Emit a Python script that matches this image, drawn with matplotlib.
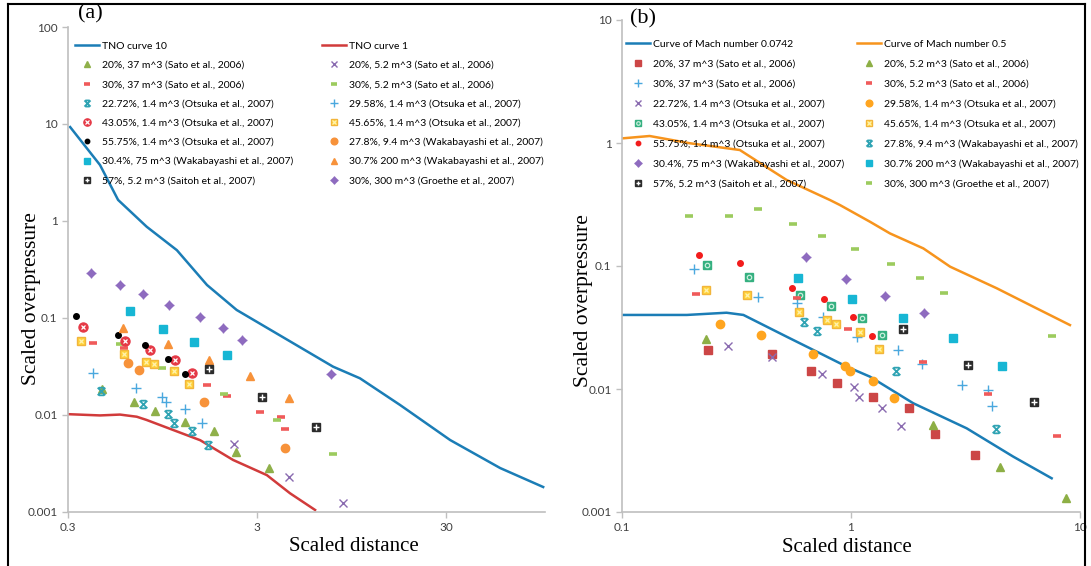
import matplotlib.pyplot as plt
from matplotlib.path import Path
from matplotlib.lines import Line2D

# ---------------- panel (a): TNO multi-energy curves ----------------
tno10_x = [0.308, 0.443, 0.552, 0.782, 1.13, 1.63, 2.34, 4.67, 7.57, 10.5, 17.1, 31.5, 57.9, 97.8]
tno10_y = [9.3, 3.78, 1.65, 0.873, 0.50, 0.219, 0.121, 0.0548, 0.0315, 0.0239, 0.0127, 0.00552, 0.00284, 0.00181]
tno1_x = [0.30, 0.443, 0.565, 0.693, 0.78, 1.50, 2.24, 3.38, 4.48, 6.08]
tno1_y = [0.0102, 0.0099, 0.0101, 0.0096, 0.0089, 0.0055, 0.00344, 0.0024, 0.00156, 0.00105]

a_sato20_37_x = [0.454, 0.668, 0.865, 1.24, 1.78, 2.32, 3.47]
a_sato20_37_y = [0.0184, 0.0136, 0.0111, 0.00848, 0.0068, 0.00412, 0.00282]
a_sato20_52_x = [2.26, 4.42, 8.59]
a_sato20_52_y = [0.00499, 0.0023, 0.00124]
a_sato30_37_x = [0.407, 0.594, 1.63, 2.07, 3.10, 4.02, 4.19]
a_sato30_37_y = [0.0556, 0.0491, 0.0204, 0.0157, 0.0107, 0.0096, 0.00713]
a_sato30_52_x = [0.565, 0.937, 2.01, 3.81, 7.57]
a_sato30_52_y = [0.0535, 0.0305, 0.0163, 0.00888, 0.00399]
a_ots2272_x = [0.450, 0.748, 1.02, 1.09, 1.36, 1.66]
a_ots2272_y = [0.0178, 0.0130, 0.0102, 0.00833, 0.00685, 0.00487]
a_ots2958_x = [0.407, 0.684, 0.940, 0.991, 1.25, 1.53]
a_ots2958_y = [0.0269, 0.0188, 0.0152, 0.0137, 0.0115, 0.0082]
a_ots4305_x = [0.361, 0.603, 0.818, 1.11, 1.35]
a_ots4305_y = [0.0813, 0.0575, 0.0468, 0.0369, 0.0269]
a_ots4565_x = [0.352, 0.591, 0.778, 0.859, 1.09, 1.31]
a_ots4565_y = [0.0575, 0.0423, 0.0354, 0.0333, 0.0283, 0.0209]
a_ots5575_x = [0.330, 0.553, 0.764, 1.01, 1.24]
a_ots5575_y = [0.104, 0.0664, 0.0527, 0.038, 0.0265]
a_wak94_x = [0.624, 0.715, 1.57, 4.24]
a_wak94_y = [0.0341, 0.0291, 0.0136, 0.00457]
a_wak75_x = [0.638, 0.951, 1.40, 2.08]
a_wak75_y = [0.119, 0.0771, 0.057, 0.0412]
a_wak200_x = [0.586, 1.01, 1.68, 2.75, 4.45]
a_wak200_y = [0.0794, 0.0535, 0.0373, 0.0255, 0.0149]
a_sai52_x = [1.68, 3.18, 6.18]
a_sai52_y = [0.030, 0.0153, 0.00757]
a_gro300_x = [0.397, 0.565, 0.748, 1.03, 1.49, 1.99, 2.51, 7.42]
a_gro300_y = [0.293, 0.219, 0.175, 0.136, 0.1016, 0.0788, 0.0593, 0.0267]

# ---------------- panel (b): Mach number curves ----------------
mach0742_x = [0.10, 0.192, 0.286, 0.339, 0.524, 0.733, 0.958, 1.21, 1.87, 3.20, 5.11, 7.52]
mach0742_y = [0.040, 0.040, 0.0417, 0.040, 0.0266, 0.0195, 0.0152, 0.0126, 0.00766, 0.00479, 0.00282, 0.00188]
mach05_x = [0.10, 0.132, 0.198, 0.327, 0.401, 0.524, 0.809, 0.895, 1.21, 1.48, 2.07, 2.71, 4.33, 6.25, 9.04]
mach05_y = [1.09, 1.14, 0.995, 0.877, 0.687, 0.50, 0.344, 0.313, 0.229, 0.184, 0.139, 0.0987, 0.0659, 0.0467, 0.0331]

b_sato20_37_x = [0.237, 0.454, 0.667, 0.866, 1.25, 1.80, 2.33, 3.49]
b_sato20_37_y = [0.0206, 0.0191, 0.0140, 0.0112, 0.00865, 0.00697, 0.0043, 0.0029]
b_sato30_37_x = [0.206, 0.391, 0.579, 0.752, 1.065, 1.60, 2.04, 3.05, 3.97, 4.13]
b_sato30_37_y = [0.0951, 0.0563, 0.0497, 0.0383, 0.0266, 0.0206, 0.0161, 0.0108, 0.0098, 0.00728]
b_ots2272_x = [0.291, 0.451, 0.749, 1.031, 1.084, 1.36, 1.66]
b_ots2272_y = [0.0225, 0.0183, 0.0132, 0.0104, 0.00857, 0.00705, 0.0050]
b_ots4305_x = [0.236, 0.360, 0.601, 0.818, 1.12, 1.36]
b_ots4305_y = [0.101, 0.0819, 0.0581, 0.0475, 0.0376, 0.0275]
b_ots5575_x = [0.217, 0.328, 0.553, 0.762, 1.017, 1.24]
b_ots5575_y = [0.122, 0.105, 0.0667, 0.0536, 0.0387, 0.027]
b_wak75_x = [0.638, 0.948, 1.41, 2.09]
b_wak75_y = [0.119, 0.0779, 0.0574, 0.0412]
b_sai52_x = [1.68, 3.23, 6.30]
b_sai52_y = [0.0305, 0.0157, 0.00779]
b_sato20_52_x = [0.233, 2.29, 4.48, 8.69]
b_sato20_52_y = [0.0256, 0.00513, 0.00233, 0.0013]
b_sato30_52_x = [0.210, 0.579, 0.967, 2.07, 3.98, 7.91]
b_sato30_52_y = [0.0589, 0.0546, 0.0305, 0.0165, 0.0091, 0.00415]
b_ots2958_x = [0.267, 0.405, 0.681, 0.937, 0.987, 1.25, 1.54]
b_ots2958_y = [0.0338, 0.0275, 0.0193, 0.0155, 0.0141, 0.0117, 0.0084]
b_ots4565_x = [0.233, 0.350, 0.591, 0.783, 0.857, 1.09, 1.32]
b_ots4565_y = [0.0642, 0.0581, 0.0425, 0.0362, 0.0340, 0.0291, 0.021]
b_wak94_x = [0.621, 0.713, 1.58, 4.30]
b_wak94_y = [0.0353, 0.0298, 0.0139, 0.0047]
b_wak200_x = [0.585, 1.013, 1.69, 2.78, 4.55]
b_wak200_y = [0.0803, 0.0542, 0.0376, 0.0261, 0.0154]
b_gro300_x = [0.196, 0.293, 0.394, 0.558, 0.745, 1.041, 1.50, 2.00, 2.54, 7.52]
b_gro300_y = [0.255, 0.255, 0.291, 0.221, 0.176, 0.137, 0.103, 0.0798, 0.060, 0.027]

lbl_sato20_37 = "20%, 37 m^3 (Sato et al., 2006)"
lbl_sato20_52 = "20%, 5.2 m^3 (Sato et al., 2006)"
lbl_sato30_37 = "30%, 37 m^3 (Sato et al., 2006)"
lbl_sato30_52 = "30%, 5.2 m^3 (Sato et al., 2006)"
lbl_ots2272 = "22.72%, 1.4 m^3 (Otsuka et al., 2007)"
lbl_ots2958 = "29.58%, 1.4 m^3 (Otsuka et al., 2007)"
lbl_ots4305 = "43.05%, 1.4 m^3 (Otsuka et al., 2007)"
lbl_ots4565 = "45.65%, 1.4 m^3 (Otsuka et al., 2007)"
lbl_ots5575 = "55.75%, 1.4 m^3 (Otsuka et al., 2007)"
lbl_wak94 = "27.8%, 9.4 m^3 (Wakabayashi et al., 2007)"
lbl_wak75 = "30.4%, 75 m^3 (Wakabayashi et al., 2007)"
lbl_wak200 = "30.7% 200 m^3 (Wakabayashi et al., 2007)"
lbl_sai52 = "57%, 5.2 m^3 (Saitoh et al., 2007)"
lbl_gro300 = "30%, 300 m^3 (Groethe et al., 2007)"

# ---------------- marker styles ----------------
STAR = Path([(-1, -1), (1, 1), (-1, 1), (1, -1), (-0.7, 1), (0.7, 1), (-0.7, -1), (0.7, -1)],
            [Path.MOVETO, Path.LINETO] * 4)

STYLES = {
    "green_tri": [dict(marker="^", ms=5.5, mfc="#8FB04A", mec="#8FB04A")],
    "purple_x": [dict(marker="x", ms=6, mew=1.0, color="#8A6BB0")],
    "red_dash": [dict(marker="_", ms=6, mew=2.6, color="#F05A5A")],
    "green_dash": [dict(marker="_", ms=6, mew=2.6, color="#9CCB5E")],
    "teal_star": [dict(marker=STAR, ms=5.5, mew=1.3, mfc="none", mec="#2FA3B3")],
    "blue_plus": [dict(marker="+", ms=7, mew=1.0, color="#4AA8DE")],
    "red_circx": [dict(marker="o", ms=6.5, mfc="#E53946", mec="#E53946"),
                  dict(marker="x", ms=3, mew=0.9, color="white")],
    "yellow_sqx": [dict(marker="s", ms=6, mfc="#FFD43B", mec="#F2B53B"),
                   dict(marker="x", ms=3.5, mew=0.9, color="#FFF2B0")],
    "black_dot": [dict(marker="o", ms=4, color="black")],
    "orange_dot": [dict(marker="o", ms=6, color="#F7923A")],
    "cyan_sq": [dict(marker="s", ms=6, color="#17B6D4")],
    "orange_tri": [dict(marker="^", ms=6, color="#F7923A")],
    "black_sqplus": [dict(marker="s", ms=6, color="#2B2B2B"),
                     dict(marker="+", ms=4, mew=1.0, color="white")],
    "purple_dia": [dict(marker="D", ms=4.2, color="#8E6BBF"),
                   dict(marker="+", ms=7, mew=0.9, color="#8E6BBF")],
    "red_sq": [dict(marker="s", ms=5.5, color="#CC4646")],
    "green_sqo": [dict(marker="s", ms=6, color="#35B080"),
                  dict(marker="o", ms=3.2, mfc="none", mec="#C8EEDC", mew=0.9)],
    "red_small": [dict(marker="o", ms=4, color="#F21C1C")],
    "amber_dot": [dict(marker="o", ms=6, color="#FFA51F")],
    "olive_tri": [dict(marker="^", ms=5.5, color="#8DAF45")],
}


def draw(ax, x, y, style, label):
    parts = []
    for kw in STYLES[style]:
        h, = ax.plot(x, y, linestyle="none", label=label, **kw)
        parts.append(h)
    return tuple(parts) if len(parts) > 1 else parts[0]


plt.rcParams["font.family"] = ["Lato", "DejaVu Sans"]
W, H = 1091, 566
fig = plt.figure(figsize=(W / 100, H / 100), dpi=100)


def px_axes(left, top, right, bottom):
    return fig.add_axes([left / W, 1 - bottom / H, (right - left) / W, (bottom - top) / H])


def style_axes(ax, xticks, yticks):
    ax.set_xscale("log")
    ax.set_yscale("log")
    for s in ("top", "right"):
        ax.spines[s].set_visible(False)
    for s in ("left", "bottom"):
        ax.spines[s].set_color("#BFBFBF")
        ax.spines[s].set_linewidth(1.2)
    ax.set_xticks(xticks)
    ax.set_xticklabels([f"{t:g}" for t in xticks])
    ax.set_yticks(yticks)
    ax.set_yticklabels([f"{t:g}" for t in yticks])
    ax.minorticks_off()
    ax.tick_params(colors="#BFBFBF", labelcolor="#404040", labelsize=8.5, length=4, width=1)
    ax.set_xlabel("Scaled distance", family="Liberation Serif", fontsize=15)
    ax.set_ylabel("Scaled overpressure", family="Liberation Serif", fontsize=15.5)


def two_col_legend(ax, left, right, x1, x2, ytop, spacing):
    opts = dict(loc="upper left", frameon=False, fontsize=7.5, borderpad=0, borderaxespad=0,
                handlelength=2.3, handletextpad=0.3, labelspacing=spacing, markerscale=0.8,
                numpoints=1)
    lg1 = ax.legend([h for h, _ in left], [l for _, l in left], bbox_to_anchor=(x1, ytop), **opts)
    ax.add_artist(lg1)
    ax.legend([h for h, _ in right], [l for _, l in right], bbox_to_anchor=(x2, ytop), **opts)


# ---------------- panel (a) ----------------
axa = px_axes(68, 27, 545, 512)
style_axes(axa, [0.3, 3, 30], [0.001, 0.01, 0.1, 1, 10, 100])
axa.set_xlim(0.3, 100)
axa.set_ylim(0.001, 100)

la10, = axa.plot(tno10_x, tno10_y, color="#1B7DB6", lw=1.8)
la1, = axa.plot(tno1_x, tno1_y, color="#D13B3B", lw=1.8)
ha = {
    "s2037": draw(axa, a_sato20_37_x, a_sato20_37_y, "green_tri", lbl_sato20_37),
    "s2052": draw(axa, a_sato20_52_x, a_sato20_52_y, "purple_x", lbl_sato20_52),
    "s3037": draw(axa, a_sato30_37_x, a_sato30_37_y, "red_dash", lbl_sato30_37),
    "s3052": draw(axa, a_sato30_52_x, a_sato30_52_y, "green_dash", lbl_sato30_52),
    "o2272": draw(axa, a_ots2272_x, a_ots2272_y, "teal_star", lbl_ots2272),
    "o2958": draw(axa, a_ots2958_x, a_ots2958_y, "blue_plus", lbl_ots2958),
    "o4305": draw(axa, a_ots4305_x, a_ots4305_y, "red_circx", lbl_ots4305),
    "o4565": draw(axa, a_ots4565_x, a_ots4565_y, "yellow_sqx", lbl_ots4565),
    "o5575": draw(axa, a_ots5575_x, a_ots5575_y, "black_dot", lbl_ots5575),
    "w94": draw(axa, a_wak94_x, a_wak94_y, "orange_dot", lbl_wak94),
    "w75": draw(axa, a_wak75_x, a_wak75_y, "cyan_sq", lbl_wak75),
    "w200": draw(axa, a_wak200_x, a_wak200_y, "orange_tri", lbl_wak200),
    "sai": draw(axa, a_sai52_x, a_sai52_y, "black_sqplus", lbl_sai52),
    "gro": draw(axa, a_gro300_x, a_gro300_y, "purple_dia", lbl_gro300),
}
two_col_legend(
    axa,
    [(la10, "TNO curve 10"), (ha["s2037"], lbl_sato20_37), (ha["s3037"], lbl_sato30_37),
     (ha["o2272"], lbl_ots2272), (ha["o4305"], lbl_ots4305), (ha["o5575"], lbl_ots5575),
     (ha["w75"], lbl_wak75), (ha["sai"], lbl_sai52)],
    [(la1, "TNO curve 1"), (ha["s2052"], lbl_sato20_52), (ha["s3052"], lbl_sato30_52),
     (ha["o2958"], lbl_ots2958), (ha["o4565"], lbl_ots4565), (ha["w94"], lbl_wak94),
     (ha["w200"], lbl_wak200), (ha["gro"], lbl_gro300)],
    0.015, 0.532, 0.970, 0.95,
)
axa.text(0.046, 1.027, "(a)", transform=axa.transAxes, family="Liberation Serif",
         fontsize=16, ha="center", va="center")
axa.xaxis.set_label_coords(0.60, -0.052)
axa.yaxis.set_label_coords(-0.056, 0.44)

# ---------------- panel (b) ----------------
axb = px_axes(622, 20, 1080, 512)
style_axes(axb, [0.1, 1, 10], [0.001, 0.01, 0.1, 1, 10])
axb.set_xlim(0.1, 10)
axb.set_ylim(0.001, 10)

lb1, = axb.plot(mach0742_x, mach0742_y, color="#1B7DB6", lw=1.8)
lb2, = axb.plot(mach05_x, mach05_y, color="#F7941D", lw=1.8)
hb = {
    "s2037": draw(axb, b_sato20_37_x, b_sato20_37_y, "red_sq", lbl_sato20_37),
    "s3037": draw(axb, b_sato30_37_x, b_sato30_37_y, "blue_plus", lbl_sato30_37),
    "o2272": draw(axb, b_ots2272_x, b_ots2272_y, "purple_x", lbl_ots2272),
    "o4305": draw(axb, b_ots4305_x, b_ots4305_y, "green_sqo", lbl_ots4305),
    "o5575": draw(axb, b_ots5575_x, b_ots5575_y, "red_small", lbl_ots5575),
    "w75": draw(axb, b_wak75_x, b_wak75_y, "purple_dia", lbl_wak75),
    "sai": draw(axb, b_sai52_x, b_sai52_y, "black_sqplus", lbl_sai52),
    "s2052": draw(axb, b_sato20_52_x, b_sato20_52_y, "olive_tri", lbl_sato20_52),
    "s3052": draw(axb, b_sato30_52_x, b_sato30_52_y, "red_dash", lbl_sato30_52),
    "o2958": draw(axb, b_ots2958_x, b_ots2958_y, "amber_dot", lbl_ots2958),
    "o4565": draw(axb, b_ots4565_x, b_ots4565_y, "yellow_sqx", lbl_ots4565),
    "w94": draw(axb, b_wak94_x, b_wak94_y, "teal_star", lbl_wak94),
    "w200": draw(axb, b_wak200_x, b_wak200_y, "cyan_sq", lbl_wak200),
    "gro": draw(axb, b_gro300_x, b_gro300_y, "green_dash", lbl_gro300),
}
two_col_legend(
    axb,
    [(lb1, "Curve of Mach number 0.0742"), (hb["s2037"], lbl_sato20_37), (hb["s3037"], lbl_sato30_37),
     (hb["o2272"], lbl_ots2272), (hb["o4305"], lbl_ots4305), (hb["o5575"], lbl_ots5575),
     (hb["w75"], lbl_wak75), (hb["sai"], lbl_sai52)],
    [(lb2, "Curve of Mach number 0.5"), (hb["s2052"], lbl_sato20_52), (hb["s3052"], lbl_sato30_52),
     (hb["o2958"], lbl_ots2958), (hb["o4565"], lbl_ots4565), (hb["w94"], lbl_wak94),
     (hb["w200"], lbl_wak200), (hb["gro"], lbl_gro300)],
    0.009, 0.513, 0.960, 1.02,
)
axb.text(0.046, 1.002, "(b)", transform=axb.transAxes, family="Liberation Serif",
         fontsize=16, ha="center", va="center")
axb.xaxis.set_label_coords(0.49, -0.052)
axb.yaxis.set_label_coords(-0.064, 0.43)

# outer frame
for xs, ys in (([8 / W, 8 / W], [0, 1 - 4 / H]), ([8 / W, 1085 / W], [1 - 4 / H, 1 - 4 / H]),
               ([1085 / W, 1085 / W], [0, 1 - 4 / H])):
    fig.add_artist(Line2D(xs, ys, color="black", lw=1.5))

fig.savefig("out.png", dpi=100)
